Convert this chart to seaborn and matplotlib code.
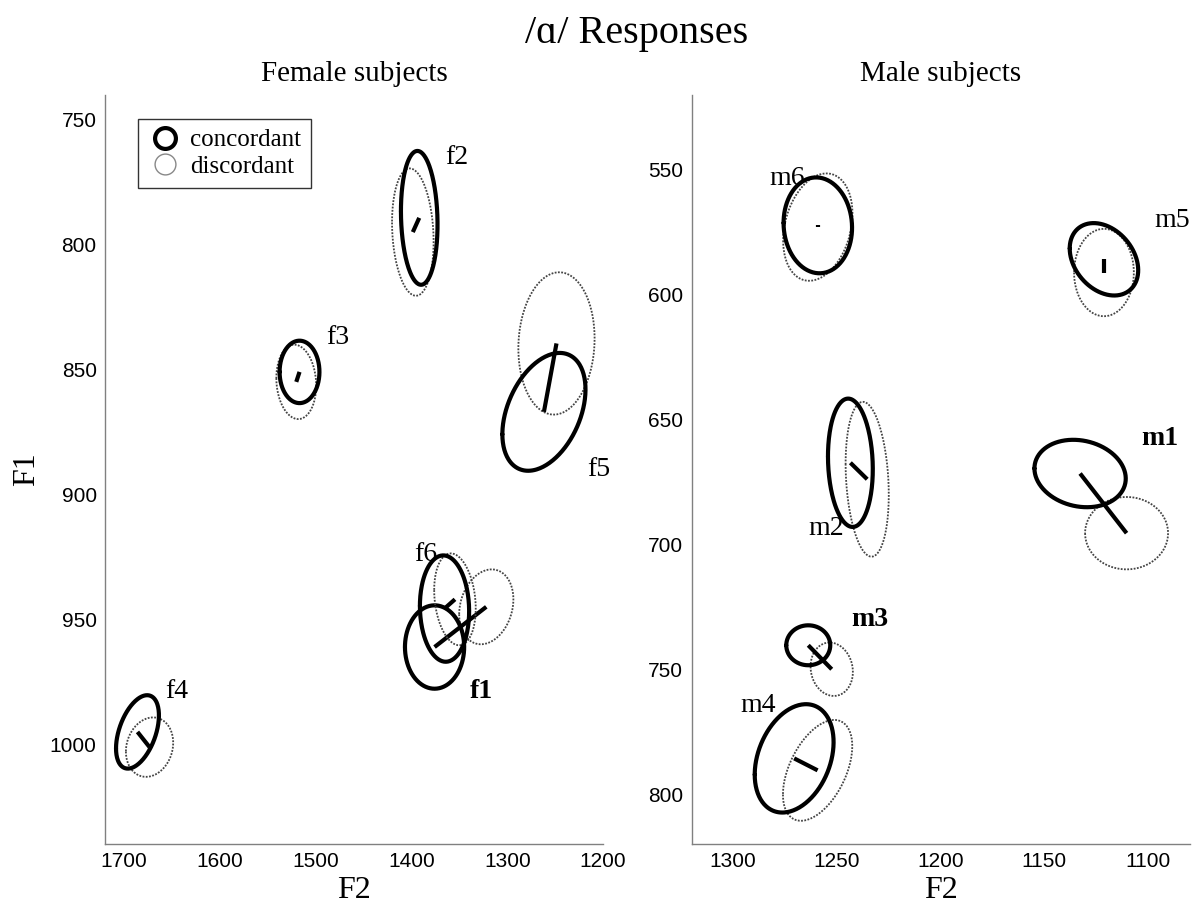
import numpy as np
import pandas as pd
import matplotlib
matplotlib.use("Agg")
import matplotlib.pyplot as plt
import seaborn as sns
from matplotlib.lines import Line2D

sns.set_theme(style="white")
SERIF = ["Liberation Serif", "DejaVu Serif"]
SANS = ["Liberation Sans", "DejaVu Sans"]
plt.rcParams["font.family"] = SANS
plt.rcParams["text.color"] = "black"
plt.rcParams["axes.labelcolor"] = "black"

# ---------------- data ----------------
female_ids = ["f1", "f2", "f3", "f4", "f5", "f6"]
# concordant responses: mean F2, mean F1, spread F2, spread F1, correlation
fem_con_f2 = [1375.9, 1391.9, 1516.9, 1686.1, 1261.7, 1365.5]
fem_con_f1 = [961.1, 789.2, 850.9, 995.1, 866.9, 945.7]
fem_con_sf2 = [30.9, 19.1, 20.8, 22.4, 43.4, 25.7]
fem_con_sf1 = [16.7, 26.8, 12.5, 14.7, 23.6, 21.3]
fem_con_r = [0.0, -0.1, 0.0, 0.45, 0.38, -0.05]
# discordant responses
fem_dis_f2 = [1321.9, 1398.6, 1520.3, 1673.5, 1248.6, 1354.6]
fem_dis_f1 = [945.0, 794.9, 854.9, 1001.2, 839.5, 942.0]
fem_dis_sf2 = [28.3, 21.7, 20.8, 24.7, 39.8, 21.7]
fem_dis_sf1 = [15.0, 25.5, 14.9, 11.9, 28.5, 18.4]
fem_dis_r = [0.2, -0.15, -0.1, 0.15, 0.07, -0.2]
fem_label_f2 = [1327, 1353, 1476.5, 1645, 1204, 1385]
fem_label_f1 = [979, 765, 837, 979, 890, 924]
fem_bold = [True, False, False, False, False, False]

male_ids = ["m1", "m2", "m3", "m4", "m5", "m6"]
male_con_f2 = [1132.8, 1243.5, 1263.8, 1270.6, 1121.3, 1259.2]
male_con_f1 = [671.6, 667.3, 740.4, 785.7, 585.8, 572.2]
male_con_sf2 = [22.0, 10.8, 10.6, 19.0, 16.5, 16.5]
male_con_sf1 = [13.5, 25.7, 8.0, 21.7, 14.5, 19.2]
male_con_r = [-0.15, -0.1, 0.0, 0.3, -0.3, -0.05]
male_dis_f2 = [1110.4, 1235.4, 1252.5, 1259.3, 1121.3, 1259.2]
male_dis_f1 = [695.5, 673.9, 750.0, 790.5, 591.1, 572.9]
male_dis_sf2 = [20.0, 10.4, 10.2, 16.7, 14.4, 16.7]
male_dis_sf1 = [14.5, 31.0, 10.7, 20.2, 17.5, 21.5]
male_dis_r = [0.0, -0.2, -0.1, 0.48, 0.0, 0.25]
male_label_f2 = [1094.5, 1255, 1234, 1288, 1088.5, 1274]
male_label_f1 = [657.6, 693.6, 730, 764.7, 570.3, 553.6]
male_bold = [True, False, True, False, False, False]


def ellipse_df(cx, cy, sx, sy, r, n=240):
    t = np.linspace(0, 2 * np.pi, n)
    x = cx + sx * np.cos(t)
    y = cy + sy * (r * np.cos(t) + np.sqrt(1 - r ** 2) * np.sin(t))
    return pd.DataFrame({"F2": x, "F1": y})


def draw_group(ax, ids, cf2, cf1, csx, csy, cr, df2, df1, dsx, dsy, dr,
               lf2, lf1, bold):
    for i, name in enumerate(ids):
        sns.lineplot(data=ellipse_df(df2[i], df1[i], dsx[i], dsy[i], dr[i]),
                     x="F2", y="F1", sort=False, estimator=None, ax=ax,
                     color="#444444", lw=1.3, linestyle=(0, (1, 0.8)))
        sns.lineplot(data=ellipse_df(cf2[i], cf1[i], csx[i], csy[i], cr[i]),
                     x="F2", y="F1", sort=False, estimator=None, ax=ax,
                     color="black", lw=3.0)
        seg = pd.DataFrame({"F2": [cf2[i], df2[i]], "F1": [cf1[i], df1[i]]})
        sns.lineplot(data=seg, x="F2", y="F1", sort=False, estimator=None,
                     ax=ax, color="black", lw=3.0, solid_capstyle="butt")
        ax.text(lf2[i], lf1[i], name, ha="center", va="center",
                fontsize=20, family=SERIF, color="black",
                fontweight="bold" if bold[i] else "normal")


fig = plt.figure(figsize=(11.96, 9.05), dpi=100)
axL = fig.add_axes([0.0878, 0.0674, 0.4164, 0.8276])
axR = fig.add_axes([0.5783, 0.0674, 0.4164, 0.8276])

draw_group(axL, female_ids, fem_con_f2, fem_con_f1, fem_con_sf2, fem_con_sf1,
           fem_con_r, fem_dis_f2, fem_dis_f1, fem_dis_sf2, fem_dis_sf1,
           fem_dis_r, fem_label_f2, fem_label_f1, fem_bold)
draw_group(axR, male_ids, male_con_f2, male_con_f1, male_con_sf2, male_con_sf1,
           male_con_r, male_dis_f2, male_dis_f1, male_dis_sf2, male_dis_sf1,
           male_dis_r, male_label_f2, male_label_f1, male_bold)

axL.set_xlim(1720, 1200)
axL.set_ylim(1040, 740)
axL.set_xticks([1700, 1600, 1500, 1400, 1300, 1200])
axL.set_yticks([750, 800, 850, 900, 950, 1000])
axR.set_xlim(1320, 1080)
axR.set_ylim(820, 520)
axR.set_xticks([1300, 1250, 1200, 1150, 1100])
axR.set_yticks([550, 600, 650, 700, 750, 800])

for ax in (axL, axR):
    for s in ("top", "right"):
        ax.spines[s].set_visible(False)
    for s in ("left", "bottom"):
        ax.spines[s].set_color("#808080")
        ax.spines[s].set_linewidth(1.0)
    ax.tick_params(direction="in", length=5, width=1, color="#808080",
                   labelsize=15, labelcolor="black", pad=6)
    ax.set_xlabel("F2", fontsize=23, family=SERIF, labelpad=3, color="black")
    ax.set_ylabel("")
    ax.grid(False)

axL.set_ylabel("F1", fontsize=23, family=SERIF, labelpad=6, color="black")
axL.set_title("Female subjects", fontsize=21, family=SERIF, pad=10,
              color="black")
axR.set_title("Male subjects", fontsize=21, family=SERIF, pad=10,
              color="black")
fig.text(0.532, 0.963, "/\u0251/ Responses", ha="center", va="center",
         fontsize=29, family=SERIF, color="black")

handles = [
    Line2D([], [], linestyle="none", marker="o", markersize=15,
           markerfacecolor="none", markeredgecolor="black", markeredgewidth=3),
    Line2D([], [], linestyle="none", marker="o", markersize=15,
           markerfacecolor="none", markeredgecolor="#888888", markeredgewidth=1),
]
leg = axL.legend(handles, ["concordant", "discordant"], loc="upper left",
                 bbox_to_anchor=(0.066, 0.968), borderaxespad=0,
                 prop={"family": SERIF, "size": 18}, frameon=True,
                 fancybox=False, handletextpad=0.3, labelspacing=0.15,
                 borderpad=0.4, handlelength=1.4)
leg.get_frame().set_edgecolor("black")
leg.get_frame().set_linewidth(1.0)
for t in leg.get_texts():
    t.set_color("black")

fig.savefig("out.png", dpi=100)
